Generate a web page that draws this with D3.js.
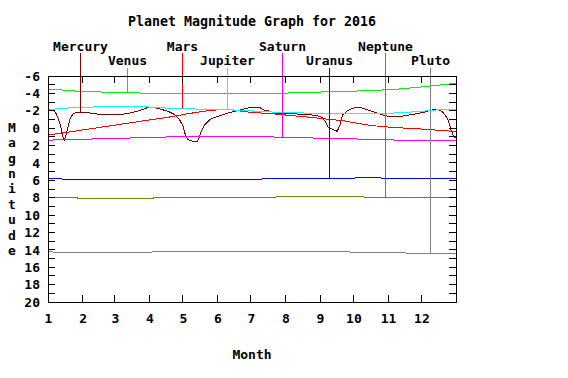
<!DOCTYPE html>
<html><head><meta charset="utf-8">
<script src="https://cdn.jsdelivr.net/npm/d3@7"></script>
<style>
body{margin:0;background:#fff;}
text{font-family:"DejaVu Sans Mono",monospace;font-weight:bold;fill:#000;}
</style></head>
<body><svg id="c" width="568" height="378"></svg>
<script>
// ---- data (day of year 2016, magnitude) ----
const title = "Planet Magnitude Graph for 2016";
const monthLabels = ["1","2","3","4","5","6","7","8","9","10","11","12"];
const yTickLabels = [-6,-4,-2,0,2,4,6,8,10,12,14,16,18,20];
const planetNames = ["Mercury","Venus","Mars","Jupiter","Saturn","Uranus","Neptune","Pluto"];
const planetColors = ["#800000","#00ee00","#ff0000","#00ffff","#ff00ff","#0000ff","#808000","#808080"];
const markerDays = [29, 71, 120, 161, 210, 252, 302, 343];
const markerMags = [-1.78, -4.12, -2.26, -2.05, 1.05, 5.77, 7.96, 14.37];

const mercury = [[0,-2.15],[4.5,-2.09],[7,-1.74],[9,-1.17],[11,-0.36],[12.6,0.56],[14.4,1.42],[16,0.9],[18,-0.13],[19.7,-1.05],[22.4,-1.63],[25,-1.80],[28.7,-1.86],[37.7,-1.74],[46.6,-1.57],[55.6,-1.51],[64.6,-1.55],[73.6,-1.74],[82.5,-2.03],[89.7,-2.38],[94,-2.43],[100.5,-2.2],[107.6,-1.94],[113.7,-1.55],[118.1,-0.97],[121.1,-0.21],[123.2,0.75],[125.6,1.33],[130,1.51],[134,1.51],[136,0.94],[137.5,0.36],[140.6,-0.4],[145,-0.97],[149.5,-1.25],[155.5,-1.48],[161.5,-1.74],[167.5,-1.94],[173.4,-2.12],[179.4,-2.32],[185.4,-2.4],[190,-2.38],[193,-2.12],[199,-1.94],[205,-1.71],[211,-1.63],[223,-1.63],[235,-1.55],[241,-1.43],[245.5,-1.25],[248.5,-0.79],[251.4,-0.1],[256,0.18],[259.5,0.36],[262,-0.4],[264.4,-1.55],[268,-1.94],[272.4,-2.24],[277.2,-2.43],[281.7,-2.32],[287.7,-2.05],[293.6,-1.82],[299.6,-1.55],[305.6,-1.36],[313,-1.28],[320.5,-1.43],[329.5,-1.63],[337,-1.82],[344.5,-2.09],[350,-2.12],[353.4,-1.94],[356.4,-1.48],[359.4,-0.79],[361.5,0.18],[363.9,0.94],[366,1.13]];
const venus = [[0,-4.47],[6,-4.47],[19,-4.31],[37,-4.19],[60,-4.12],[92,-4.01],[115,-3.93],[185,-3.93],[214,-4.04],[245,-4.16],[270,-4.24],[294,-4.35],[315,-4.5],[334,-4.73],[349,-4.93],[362,-5.11],[366,-5.15]];
const mars = [[0,0.8],[30,0.23],[60,-0.35],[94,-1.0],[110,-1.3],[125,-1.65],[140,-1.95],[155,-2.15],[165,-2.1],[180,-1.85],[204,-1.62],[220,-1.43],[235,-1.25],[251,-1.03],[265,-0.85],[276,-0.6],[285,-0.4],[297,-0.21],[314,-0.05],[335,0.1],[351,0.25],[366,0.38]];
const jupiter = [[0,-2.12],[2,-2.12],[11,-2.28],[32,-2.40],[60,-2.51],[80,-2.51],[105,-2.32],[133,-2.20],[167,-2.09],[188,-1.94],[207,-1.82],[230,-1.74],[310,-1.74],[326,-1.86],[338,-1.97],[348,-2.09],[360,-2.17],[366,-2.17]];
const saturn = [[0,1.37],[7,1.36],[30,1.28],[63,1.17],[98,1.05],[125,0.94],[185,0.94],[210,1.05],[250,1.17],[288,1.28],[320,1.40],[366,1.40]];
const uranus = [[0,5.77],[10,5.77],[14,5.89],[190,5.89],[196,5.77],[274,5.77],[278,5.66],[296,5.66],[300,5.77],[366,5.77]];
const neptune = [[0,7.96],[25,7.96],[28,8.12],[93,8.12],[96,7.96],[204,7.96],[207,7.81],[281,7.81],[284,7.96],[366,7.96]];
const pluto = [[0,14.2],[4,14.2],[5,14.3],[10,14.3],[12,14.25],[93,14.25],[96,14.14],[268,14.14],[271,14.25],[318,14.25],[321,14.37],[366,14.37]];
const series = [mercury, venus, mars, jupiter, saturn, uranus, neptune, pluto];

// ---- drawing ----
const svg = d3.select("#c");
const L=48, R=456, T=76, B=302;
const t0 = new Date(2016,0,1), t1 = new Date(2017,0,1);
const dayToDate = d => new Date(t0.getTime() + d*86400000);
const x = d3.scaleTime().domain([t0,t1]).range([L,R]);
const y = d3.scaleLinear().domain([-6,20]).range([T,B]);

svg.append("text").attr("x",252).attr("y",26).attr("text-anchor","middle")
  .style("font-size","13.3px").text(title);

// curves
const line = d3.line().x(d=>x(dayToDate(d[0]))).y(d=>y(d[1]));
const g = svg.append("g").attr("shape-rendering","crispEdges");
series.forEach((s,i)=>{
  g.append("path").attr("d",line(s)).attr("fill","none")
   .attr("stroke",planetColors[i]).attr("stroke-width",1);
});

// marker lines + labels
planetNames.forEach((n,i)=>{
  const row = i%2;
  const xx = Math.round(x(dayToDate(markerDays[i])))+0.5;
  const top = row===0 ? 53 : 67.5;
  g.append("line").attr("x1",xx).attr("x2",xx).attr("y1",top).attr("y2",y(markerMags[i]))
    .attr("stroke",planetColors[i]).attr("stroke-width",1);
  svg.append("text").attr("x",xx).attr("y",row===0?50.5:65).attr("text-anchor","middle")
    .style("font-size","13px").text(n);
});

// frame and ticks
const ax = svg.append("g").attr("shape-rendering","crispEdges");
ax.append("rect").attr("x",L).attr("y",T).attr("width",R-L).attr("height",B-T)
  .attr("fill","none").attr("stroke","#000").attr("stroke-width",1);
const months = d3.timeMonth.range(t0,t1);
const xAxB = d3.axisBottom(x).tickValues(months).tickSize(0).tickFormat((d,i)=>monthLabels[i]);
const xAxis = ax.append("g").attr("transform",`translate(0,${B})`).call(xAxB);
xAxis.select(".domain").remove();
xAxis.selectAll("text").attr("dy",0).attr("y",21).style("font-size","13px").style("font-family","DejaVu Sans Mono").style("font-weight","bold");
// inward ticks
months.concat([t1]).forEach(m=>{
  const xx=x(m);
  ax.append("line").attr("x1",xx).attr("x2",xx).attr("y1",B).attr("y2",B-7).attr("stroke","#000");
  ax.append("line").attr("x1",xx).attr("x2",xx).attr("y1",T).attr("y2",T+7).attr("stroke","#000");
});
d3.range(-6,21,1).forEach(v=>{
  const yy=y(v);
  ax.append("line").attr("x1",L).attr("x2",L+7).attr("y1",yy).attr("y2",yy).attr("stroke","#000");
  ax.append("line").attr("x1",R).attr("x2",R-7).attr("y1",yy).attr("y2",yy).attr("stroke","#000");
});
const yAx = d3.axisLeft(y).tickValues(yTickLabels).tickSize(0).tickPadding(8).tickFormat(d3.format("d"));
const yAxis = ax.append("g").attr("transform",`translate(${L},0)`).call(yAx);
yAxis.select(".domain").remove();
yAxis.selectAll("text").style("font-size","13px").style("font-family","DejaVu Sans Mono").style("font-weight","bold")
  .text(d=>String(d).replace("−","-"));

// axis titles
svg.append("text").attr("x",252).attr("y",359).attr("text-anchor","middle").style("font-size","13px").text("Month");
"Magnitude".split("").forEach((c,i)=>{
  svg.append("text").attr("x",12).attr("y",131.7+i*15.4).attr("text-anchor","middle").style("font-size","13px").text(c);
});
</script></body></html>
